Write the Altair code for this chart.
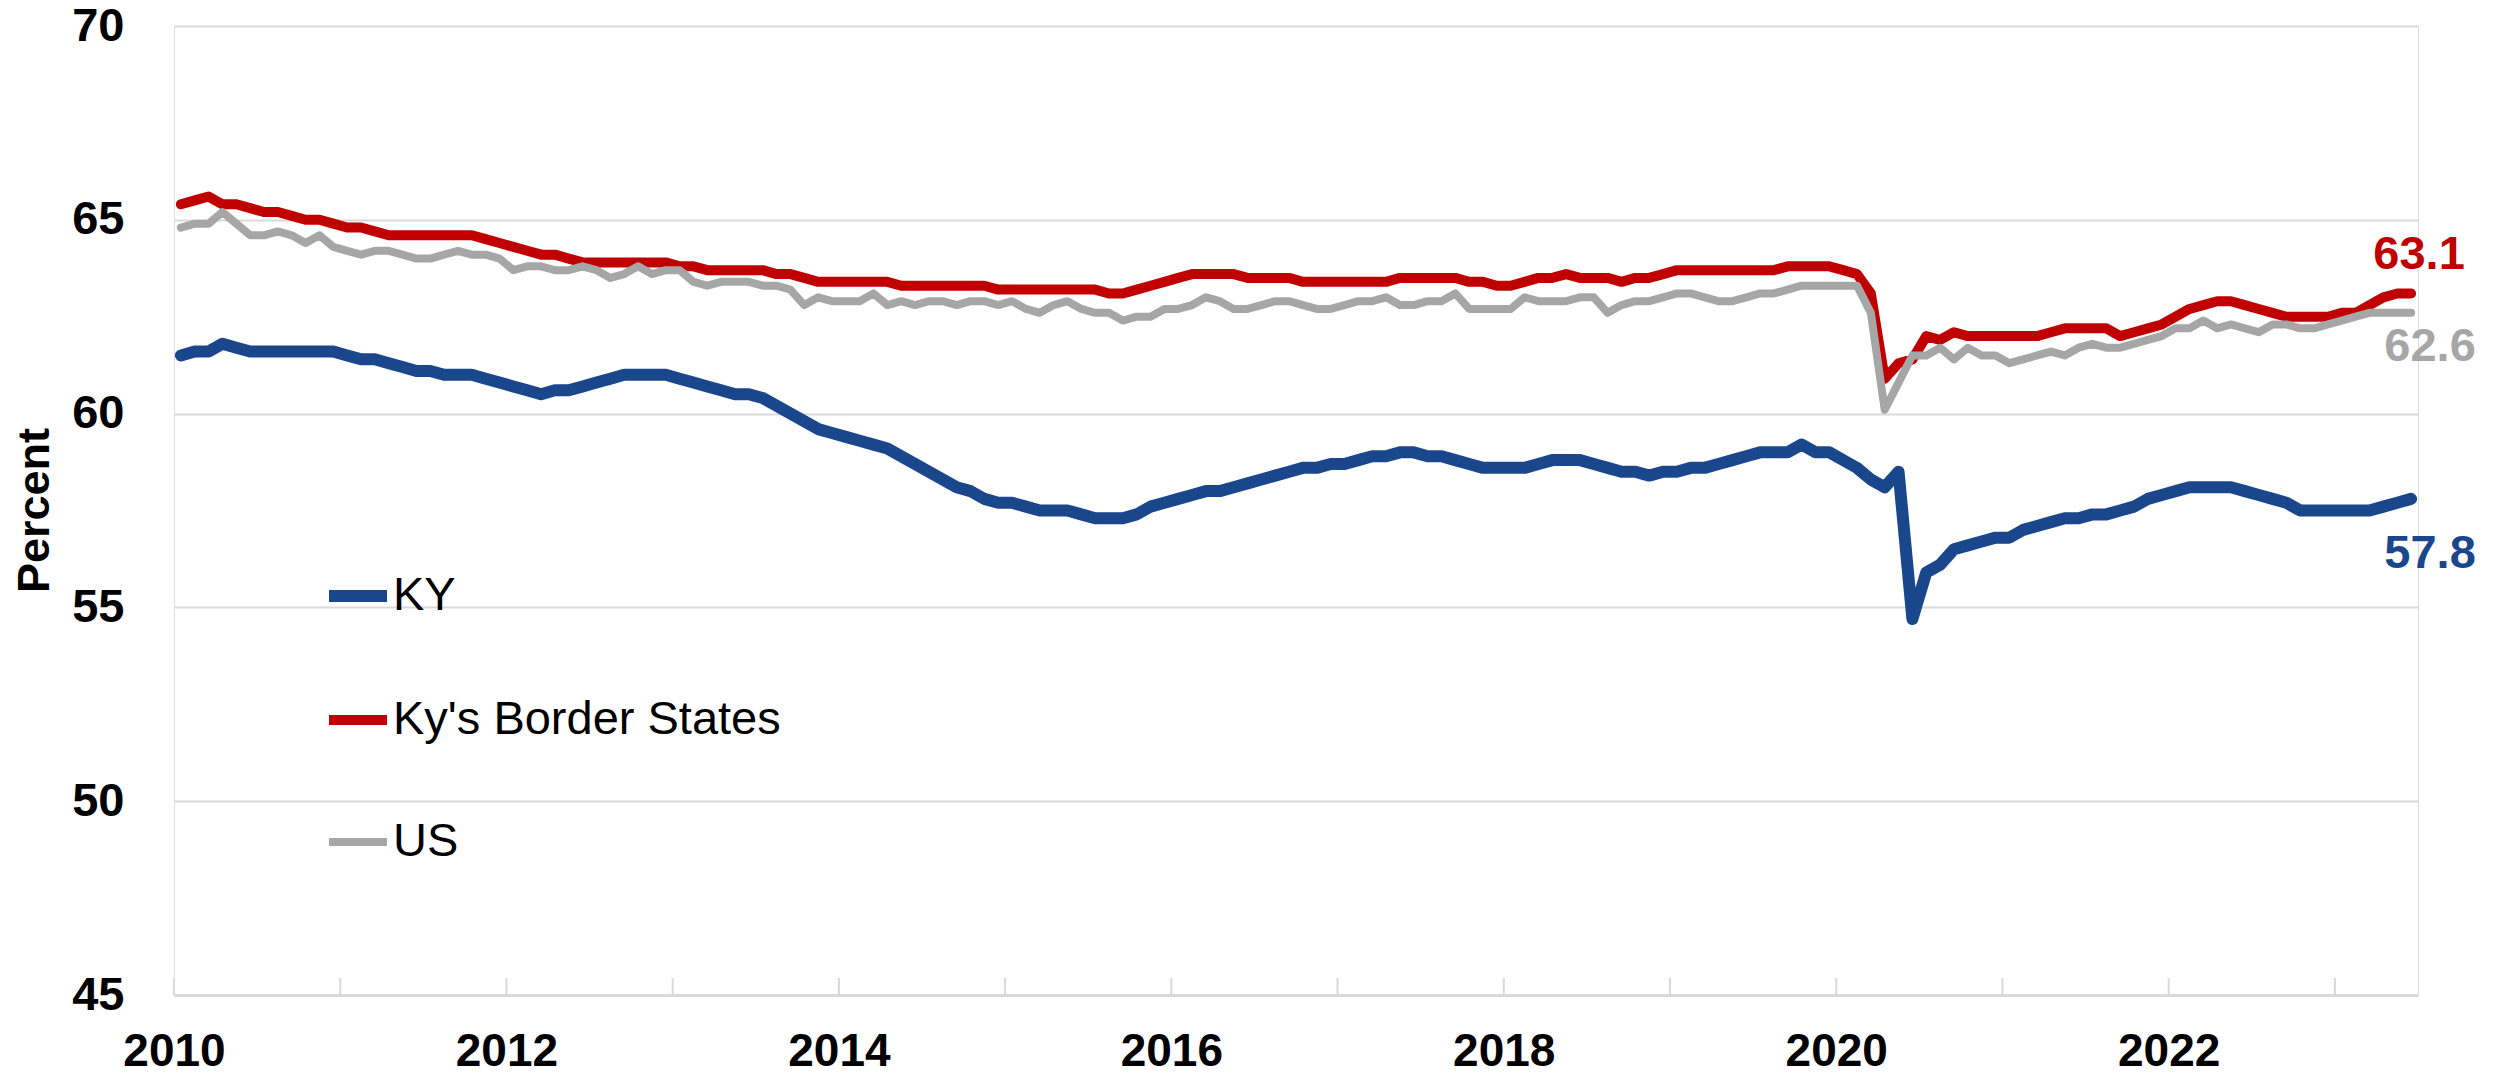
import altair as alt
import pandas as pd

START_YEAR = 2010

# Monthly values, Jan 2010 .. Jun 2023 (12 per row)
ky = [
    61.5, 61.6, 61.6, 61.8, 61.7, 61.6, 61.6, 61.6, 61.6, 61.6, 61.6, 61.6,
    61.5, 61.4, 61.4, 61.3, 61.2, 61.1, 61.1, 61.0, 61.0, 61.0, 60.9, 60.8,
    60.7, 60.6, 60.5, 60.6, 60.6, 60.7, 60.8, 60.9, 61.0, 61.0, 61.0, 61.0,
    60.9, 60.8, 60.7, 60.6, 60.5, 60.5, 60.4, 60.2, 60.0, 59.8, 59.6, 59.5,
    59.4, 59.3, 59.2, 59.1, 58.9, 58.7, 58.5, 58.3, 58.1, 58.0, 57.8, 57.7,
    57.7, 57.6, 57.5, 57.5, 57.5, 57.4, 57.3, 57.3, 57.3, 57.4, 57.6, 57.7,
    57.8, 57.9, 58.0, 58.0, 58.1, 58.2, 58.3, 58.4, 58.5, 58.6, 58.6, 58.7,
    58.7, 58.8, 58.9, 58.9, 59.0, 59.0, 58.9, 58.9, 58.8, 58.7, 58.6, 58.6,
    58.6, 58.6, 58.7, 58.8, 58.8, 58.8, 58.7, 58.6, 58.5, 58.5, 58.4, 58.5,
    58.5, 58.6, 58.6, 58.7, 58.8, 58.9, 59.0, 59.0, 59.0, 59.2, 59.0, 59.0,
    58.8, 58.6, 58.3, 58.1, 58.5, 54.7, 55.9, 56.1, 56.5, 56.6, 56.7, 56.8,
    56.8, 57.0, 57.1, 57.2, 57.3, 57.3, 57.4, 57.4, 57.5, 57.6, 57.8, 57.9,
    58.0, 58.1, 58.1, 58.1, 58.1, 58.0, 57.9, 57.8, 57.7, 57.5, 57.5, 57.5,
    57.5, 57.5, 57.5, 57.6, 57.7, 57.8,
]
border = [
    65.4, 65.5, 65.6, 65.4, 65.4, 65.3, 65.2, 65.2, 65.1, 65.0, 65.0, 64.9,
    64.8, 64.8, 64.7, 64.6, 64.6, 64.6, 64.6, 64.6, 64.6, 64.6, 64.5, 64.4,
    64.3, 64.2, 64.1, 64.1, 64.0, 63.9, 63.9, 63.9, 63.9, 63.9, 63.9, 63.9,
    63.8, 63.8, 63.7, 63.7, 63.7, 63.7, 63.7, 63.6, 63.6, 63.5, 63.4, 63.4,
    63.4, 63.4, 63.4, 63.4, 63.3, 63.3, 63.3, 63.3, 63.3, 63.3, 63.3, 63.2,
    63.2, 63.2, 63.2, 63.2, 63.2, 63.2, 63.2, 63.1, 63.1, 63.2, 63.3, 63.4,
    63.5, 63.6, 63.6, 63.6, 63.6, 63.5, 63.5, 63.5, 63.5, 63.4, 63.4, 63.4,
    63.4, 63.4, 63.4, 63.4, 63.5, 63.5, 63.5, 63.5, 63.5, 63.4, 63.4, 63.3,
    63.3, 63.4, 63.5, 63.5, 63.6, 63.5, 63.5, 63.5, 63.4, 63.5, 63.5, 63.6,
    63.7, 63.7, 63.7, 63.7, 63.7, 63.7, 63.7, 63.7, 63.8, 63.8, 63.8, 63.8,
    63.7, 63.6, 63.1, 60.9, 61.3, 61.4, 62.0, 61.9, 62.1, 62.0, 62.0, 62.0,
    62.0, 62.0, 62.0, 62.1, 62.2, 62.2, 62.2, 62.2, 62.0, 62.1, 62.2, 62.3,
    62.5, 62.7, 62.8, 62.9, 62.9, 62.8, 62.7, 62.6, 62.5, 62.5, 62.5, 62.5,
    62.6, 62.6, 62.8, 63.0, 63.1, 63.1,
]
us = [
    64.8, 64.9, 64.9, 65.2, 64.9, 64.6, 64.6, 64.7, 64.6, 64.4, 64.6, 64.3,
    64.2, 64.1, 64.2, 64.2, 64.1, 64.0, 64.0, 64.1, 64.2, 64.1, 64.1, 64.0,
    63.7, 63.8, 63.8, 63.7, 63.7, 63.8, 63.7, 63.5, 63.6, 63.8, 63.6, 63.7,
    63.7, 63.4, 63.3, 63.4, 63.4, 63.4, 63.3, 63.3, 63.2, 62.8, 63.0, 62.9,
    62.9, 62.9, 63.1, 62.8, 62.9, 62.8, 62.9, 62.9, 62.8, 62.9, 62.9, 62.8,
    62.9, 62.7, 62.6, 62.8, 62.9, 62.7, 62.6, 62.6, 62.4, 62.5, 62.5, 62.7,
    62.7, 62.8, 63.0, 62.9, 62.7, 62.7, 62.8, 62.9, 62.9, 62.8, 62.7, 62.7,
    62.8, 62.9, 62.9, 63.0, 62.8, 62.8, 62.9, 62.9, 63.1, 62.7, 62.7, 62.7,
    62.7, 63.0, 62.9, 62.9, 62.9, 63.0, 63.0, 62.6, 62.8, 62.9, 62.9, 63.0,
    63.1, 63.1, 63.0, 62.9, 62.9, 63.0, 63.1, 63.1, 63.2, 63.3, 63.3, 63.3,
    63.3, 63.3, 62.6, 60.1, 60.8, 61.5, 61.5, 61.7, 61.4, 61.7, 61.5, 61.5,
    61.3, 61.4, 61.5, 61.6, 61.5, 61.7, 61.8, 61.7, 61.7, 61.8, 61.9, 62.0,
    62.2, 62.2, 62.4, 62.2, 62.3, 62.2, 62.1, 62.3, 62.3, 62.2, 62.2, 62.3,
    62.4, 62.5, 62.6, 62.6, 62.6, 62.6,
]

series_names = ["KY", "Ky's Border States", "US"]
series_colors = ["#1A468C", "#C00000", "#A6A6A6"]
series_widths = [12, 8, 8]
y_ticks = [45, 50, 55, 60, 65, 70]
x_label_years = [2010, 2012, 2014, 2016, 2018, 2020, 2022]
tick_years = list(range(2010, 2024))

assert len(ky) == len(border) == len(us)

rows = []
for name, vals in zip(series_names, [ky, border, us]):
    for i, v in enumerate(vals):
        rows.append({"series": name, "t": START_YEAR + (i + 0.5) / 12, "value": v})
df = pd.DataFrame(rows)

W, H = 2244, 969
FONT = "Liberation Sans"

x_scale = alt.Scale(domain=[2010, 2023.5], nice=False, zero=False)
y_scale = alt.Scale(domain=[45, 70], nice=False, zero=False)
color_scale = alt.Scale(domain=series_names, range=series_colors)
width_scale = alt.Scale(domain=series_names, range=series_widths)

legend = alt.Legend(
    title=None, orient="none", legendX=149, legendY=535, direction="vertical",
    symbolType="stroke", symbolSize=3364, labelFont=FONT, labelFontSize=47,
    labelColor="black", labelOffset=0, labelLimit=0, rowPadding=66, padding=0,
)

lines = alt.Chart(df).mark_line(strokeCap="round", strokeJoin="round").encode(
    x=alt.X("t:Q", scale=x_scale, axis=alt.Axis(
        values=x_label_years, format="d", grid=False, ticks=False,
        domainColor="#d9d9d9", domainWidth=3, labelFont=FONT, labelFontSize=46,
        labelFontWeight="bold", labelColor="black", labelPadding=34,
        labelFlush=False, labelOverlap=False, title=None)),
    y=alt.Y("value:Q", scale=y_scale, axis=alt.Axis(
        values=y_ticks, grid=True, gridColor="#d9d9d9", gridWidth=2, domain=False,
        ticks=False, labelFont=FONT, labelFontSize=47, labelFontWeight="bold",
        labelColor="black", labelPadding=50, labelFlush=False,
        title="Percent", titleFont=FONT,
        titleFontSize=45, titleFontWeight="bold", titleColor="black",
        titleX=-126, titleY=484, titleAlign="center", titleBaseline="alphabetic",
        titleAngle=270)),
    color=alt.Color("series:N", scale=color_scale, legend=legend, sort=series_names),
    strokeWidth=alt.StrokeWidth("series:N", scale=width_scale, legend=legend, sort=series_names),
    detail="series:N",
)

ticks = alt.Chart(pd.DataFrame({"year": tick_years})).mark_rule(
    color="#d9d9d9", strokeWidth=2
).encode(
    x=alt.X("year:Q", scale=x_scale),
    y=alt.value(H),
    y2=alt.value(H - 17),
)

last_t = START_YEAR + (len(ky) - 0.5) / 12
label_specs = [
    (series_names[1], border[-1], series_colors[1], 8, -38),
    (series_names[2], us[-1], series_colors[2], 19, 34),
    (series_names[0], ky[-1], series_colors[0], 19, 55),
]
end_layers = []
for name, val, col, dx, dy in label_specs:
    d = pd.DataFrame({"t": [last_t], "value": [val], "label": [f"{val:.1f}"]})
    end_layers.append(
        alt.Chart(d).mark_text(
            font=FONT, fontSize=47, fontWeight="bold", color=col,
            align="center", baseline="middle", dx=dx, dy=dy,
        ).encode(
            x=alt.X("t:Q", scale=x_scale),
            y=alt.Y("value:Q", scale=y_scale),
            text="label:N",
        )
    )

chart = alt.layer(ticks, lines, *end_layers).properties(
    width=W, height=H,
    autosize=alt.AutoSizeParams(type="none"),
    padding={"left": 166, "top": 18, "right": 62, "bottom": 80},
).configure_view(stroke=None).configure(background="white")

chart.save("out.html", embed_options={"renderer": "svg", "actions": False})
